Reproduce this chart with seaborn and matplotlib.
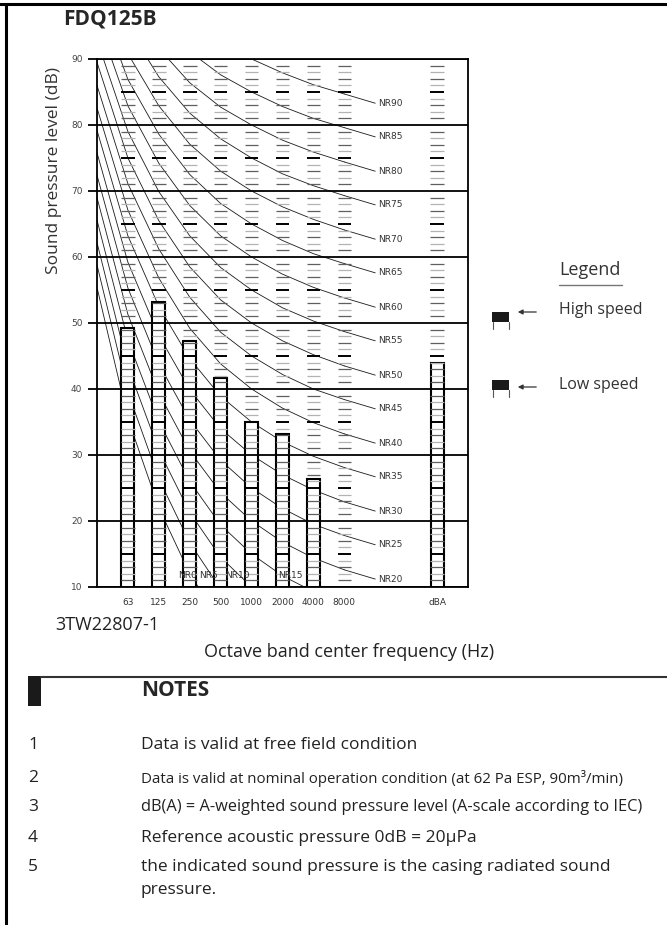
import numpy as np
import pandas as pd
import matplotlib
matplotlib.use("Agg")
import matplotlib.pyplot as plt
import seaborn as sns
from matplotlib import font_manager
from matplotlib.patches import Rectangle


# octave bands on the x axis (dBA is the overall value)
bands = ["63", "125", "250", "500", "1000", "2000", "4000", "8000", "dBA"]
# sound pressure level (dB); no bar drawn at 8000 Hz
spl = [49.3, 53.2, 47.3, 41.6, 35.0, 33.2, 26.3, np.nan, 44.0]

# NR curves, levels at 31.5 .. 8000 Hz
nr_bands = ["31.5", "63", "125", "250", "500", "1000", "2000", "4000", "8000"]
nr_levels = [0, 5, 10, 15, 20, 25, 30, 35, 40, 45, 50, 55, 60, 65, 70, 75, 80, 85, 90]
nr_table = [
    [55.4, 35.5, 22.0, 12.0, 4.8, 0.0, -3.5, -6.1, -8.0],
    [58.8, 39.5, 26.4, 16.7, 9.7, 5.0, 1.6, -1.0, -2.9],
    [62.2, 43.4, 30.7, 21.3, 14.5, 10.0, 6.7, 4.2, 2.3],
    [65.6, 47.4, 35.1, 26.0, 19.4, 15.0, 11.7, 9.3, 7.5],
    [69.0, 51.3, 39.4, 30.6, 24.3, 20.0, 16.8, 14.4, 12.6],
    [72.4, 55.3, 43.8, 35.3, 29.2, 25.0, 21.9, 19.5, 17.8],
    [75.8, 59.2, 48.1, 39.9, 34.0, 30.0, 27.0, 24.7, 22.9],
    [79.2, 63.2, 52.5, 44.6, 38.9, 35.0, 32.0, 29.8, 28.1],
    [82.6, 67.1, 56.8, 49.2, 43.8, 40.0, 37.1, 34.9, 33.2],
    [86.0, 71.1, 61.2, 53.9, 48.6, 45.0, 42.2, 40.0, 38.4],
    [89.5, 75.0, 65.5, 58.5, 53.5, 50.0, 47.3, 45.2, 43.5],
    [92.9, 79.0, 69.9, 63.2, 58.4, 55.0, 52.3, 50.3, 48.7],
    [96.3, 82.9, 74.2, 67.8, 63.2, 60.0, 57.4, 55.4, 53.8],
    [99.7, 86.9, 78.6, 72.5, 68.1, 65.0, 62.5, 60.5, 59.0],
    [103.1, 90.8, 82.9, 77.1, 73.0, 70.0, 67.6, 65.7, 64.1],
    [106.5, 94.8, 87.3, 81.8, 77.9, 75.0, 72.6, 70.8, 69.3],
    [109.9, 98.7, 91.6, 86.4, 82.7, 80.0, 77.7, 75.9, 74.4],
    [113.3, 102.7, 96.0, 91.1, 87.6, 85.0, 82.8, 81.0, 79.6],
    [116.7, 106.6, 100.3, 95.7, 92.5, 90.0, 87.9, 86.1, 84.7],
]

notes = [
    "Data is valid at free field condition",
    "Data is valid at nominal operation condition (at 62 Pa ESP, 90m\u00b3/min)",
    "dB(A) = A-weighted sound pressure level (A-scale according to IEC)",
    "Reference acoustic pressure 0dB = 20\u00b5Pa",
    "the indicated sound pressure is the casing radiated sound\npressure.",
]
note_sizes = [12.5, 10.8, 11.8, 12.5, 12.5]

sns.set_style("white")
plt.rcParams["font.family"] = ["Open Sans", "DejaVu Sans"]
names = {f.name for f in font_manager.fontManager.ttflist}
narrow = "Liberation Sans Narrow" if "Liberation Sans Narrow" in names else "DejaVu Sans"

W, H = 667, 925
fig = plt.figure(figsize=(W / 100, H / 100), dpi=100)

# overlay in pixel coordinates for the page furniture
pg = fig.add_axes([0, 0, 1, 1])
pg.set_xlim(0, W)
pg.set_ylim(H, 0)
pg.axis("off")

ax = fig.add_axes([97 / W, 1 - 587 / H, (468 - 97) / W, (587 - 59) / H])

# x positions: octave bands 0..7, dBA set apart at 10, 31.5 Hz at -1
band_pos = list(range(8)) + [10]
nr_pos = list(range(-1, 8))

bar_df = pd.DataFrame({"pos": band_pos, "spl": spl}).dropna()
sns.barplot(
    data=bar_df, x="pos", y="spl", native_scale=True, width=0.42,
    color="white", edgecolor="black", linewidth=1.5, errorbar=None,
    ax=ax, zorder=2,
)
for p in ax.patches:
    p.set_facecolor("white")

nr_df = pd.DataFrame(
    [(lv, p, v) for lv, row in zip(nr_levels, nr_table) for p, v in zip(nr_pos, row)],
    columns=["nr", "pos", "level"],
)
sns.lineplot(
    data=nr_df, x="pos", y="level", units="nr", estimator=None, sort=False,
    color="#1a1a1a", linewidth=0.6, legend=False, ax=ax, zorder=1.5,
)

# NR labels: leader past 8000 Hz, or at the bottom edge for the low curves
for lv, row in zip(nr_levels, nr_table):
    v8 = row[-1]
    if v8 > 10:
        ax.plot([7, 8.0], [v8, v8 - 1.4], color="#1a1a1a", lw=0.6, zorder=1.5)
        ax.text(8.08, v8 - 1.4, f"NR{lv}", fontsize=6.5, family=narrow,
                color="#333333", va="center", ha="left")
    else:
        for i in range(len(row) - 1):
            if row[i] >= 10 > row[i + 1]:
                cross = nr_pos[i] + (row[i] - 10) / (row[i] - row[i + 1])
                ax.text(cross - 0.06, 11.7, f"NR{lv}", fontsize=6.5, family=narrow,
                        color="#333333", va="center", ha="right", zorder=4)
                break

# 1 dB ladder at every band column
rungs = np.arange(11, 90)
rungs = rungs[rungs % 10 != 0]
for p in band_pos:
    five = rungs[rungs % 5 == 0]
    odd = rungs[(rungs % 5 != 0) & (rungs % 2 == 1)]
    even = rungs[(rungs % 5 != 0) & (rungs % 2 == 0)]
    ax.hlines(five, p - 0.22, p + 0.22, color="black", lw=1.4, zorder=3)
    ax.hlines(odd, p - 0.22, p + 0.22, color="#5f5f5f", lw=0.9, zorder=3)
    ax.hlines(even, p - 0.22, p + 0.22, color="#b3b3b3", lw=0.9, zorder=3)

ax.set_xlim(-1, 11)
ax.set_ylim(10, 90)
ax.set_yticks(range(10, 91, 10))
ax.set_xticks(band_pos)
ax.set_xticklabels(bands)
ax.set_axisbelow(False)
ax.yaxis.grid(True, color="black", lw=1.3)
ax.xaxis.grid(False)
ax.tick_params(axis="y", left=True, length=6.5, width=1.3, color="black",
               pad=4, labelsize=6.5, labelcolor="#444444")
ax.tick_params(axis="x", bottom=False, length=0, pad=8, labelsize=6.5,
               labelcolor="#333333")
for lab in ax.get_xticklabels() + ax.get_yticklabels():
    lab.set_family(narrow)
for s in ax.spines.values():
    s.set_visible(True)
    s.set_color("black")
    s.set_linewidth(1.3)
ax.set_xlabel("")
ax.set_ylabel("")

# page frame
pg.plot([0, W], [4, 4], color="black", lw=2.2)
pg.plot([6, 6], [4, H], color="black", lw=2.2)

pg.text(63, 19, "FDQ125B", fontsize=15, weight="bold", va="center", ha="left")
pg.text(54, 171, "Sound pressure level (dB)", fontsize=12.5, rotation=90,
        va="center", ha="center", color="#333333")
pg.text(55, 625, "3TW22807-1", fontsize=13, va="center", ha="left", color="#222222")
pg.text(349, 652, "Octave band center frequency (Hz)", fontsize=13,
        va="center", ha="center", color="#222222")

# legend block
pg.text(559, 270, "Legend", fontsize=13, va="center", ha="left", color="#333333")
pg.plot([559, 622], [285, 285], color="#777777", lw=1)
for ty, ry, ay, label in [(310, 312, 312, "High speed"), (385, 380, 387, "Low speed")]:
    pg.add_patch(Rectangle((492, ry), 17, 10, facecolor="#1a1a1a", edgecolor="none"))
    pg.plot([492.5, 492.5], [ry + 10, ry + 17], color="#555555", lw=0.8)
    pg.plot([508.5, 508.5], [ry + 10, ry + 17], color="#555555", lw=0.8)
    pg.annotate("", xy=(515, ay), xytext=(539, ay),
                arrowprops=dict(arrowstyle="-|>", color="#333333", lw=0.9,
                                mutation_scale=7))
    pg.text(559, ty, label, fontsize=11.5, va="center", ha="left", color="#333333")

# notes block
pg.add_patch(Rectangle((28, 676), 13, 30, facecolor="#1a1a1a", edgecolor="none"))
pg.plot([41, W], [677, 677], color="#333333", lw=1.5)
pg.text(141, 691, "NOTES", fontsize=15, weight="bold", va="center", ha="left")
note_y = [745, 778, 807, 838, 867]
for i, (txt, y, size) in enumerate(zip(notes, note_y, note_sizes)):
    pg.text(28, y, str(i + 1), fontsize=12.5, va="center", ha="left", color="#222222")
    pg.text(141, y - 8, txt, fontsize=size, va="top", ha="left",
            color="#222222", linespacing=1.55)

fig.savefig("out.png", dpi=100)
